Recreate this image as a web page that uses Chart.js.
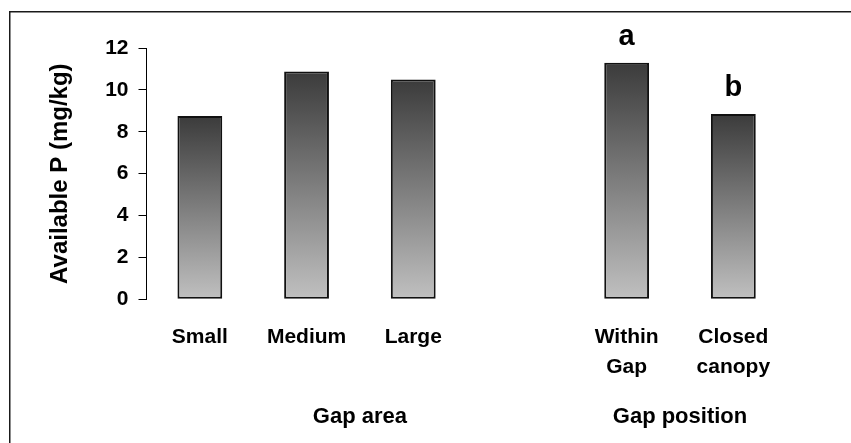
<!DOCTYPE html>
<html>
<head>
<meta charset="utf-8">
<script src="https://cdn.jsdelivr.net/npm/chart.js@4/dist/chart.umd.min.js"></script>
<style>
  html, body { margin: 0; padding: 0; background: #fff; }
  #wrap { width: 851px; height: 443px; }
</style>
</head>
<body>
<div id="wrap"><canvas id="c" width="851" height="443"></canvas></div>
<script>
// Available phosphorus by gap area and by position relative to the gap
const categories = [['Small'], ['Medium'], ['Large'], [''], ['Within', 'Gap'], ['Closed', 'canopy']];
const availableP = [8.75, 10.88, 10.5, null, 11.3, 8.85];
const significance = ['', '', '', '', 'a', 'b'];
const groups = [
  { label: 'Gap area', from: 0, to: 3 },
  { label: 'Gap position', from: 4, to: 5 }
];
const yTicks = [0, 2, 4, 6, 8, 10, 12];

const FONT = "'Liberation Sans', Arial, Helvetica, sans-serif";

// vertical dark-to-light fill for each bar, spanning the bar's own height
function barGradient(ctx) {
  const chart = ctx.chart;
  if (!chart.chartArea || ctx.raw == null) return '#888';
  const y = chart.scales.y;
  const top = y.getPixelForValue(ctx.raw);
  const bottom = y.getPixelForValue(0);
  const g = chart.ctx.createLinearGradient(0, top, 0, bottom);
  g.addColorStop(0, '#3b3b3b');
  g.addColorStop(1, '#c0c0c0');
  return g;
}

const decorations = {
  id: 'decorations',
  beforeDraw(chart) {
    const c = chart.ctx;
    c.save();
    c.fillStyle = '#fff';
    c.fillRect(0, 0, chart.width, chart.height);
    c.strokeStyle = '#1a1a1a';
    c.lineWidth = 1.5;
    c.strokeRect(9.75, 11.75, 900, 500);
    c.restore();
  },
  afterDatasetsDraw(chart) {
    const c = chart.ctx;
    const meta = chart.getDatasetMeta(0);
    const x = chart.scales.x;
    c.save();
    c.fillStyle = '#000';
    c.textAlign = 'center';
    c.textBaseline = 'alphabetic';
    // significance letters above the bars
    c.font = 'bold 29px ' + FONT;
    significance.forEach((s, i) => {
      if (!s) return;
      const bar = meta.data[i];
      c.fillText(s, bar.x, bar.y - 18);
    });
    // group captions under the category labels
    c.font = 'bold 22px ' + FONT;
    groups.forEach(g => {
      const cx = (x.getPixelForValue(g.from) + x.getPixelForValue(g.to)) / 2;
      c.fillText(g.label, cx, 423);
    });
    c.restore();
  }
};

new Chart(document.getElementById('c'), {
  type: 'bar',
  data: {
    labels: categories,
    datasets: [{
      data: availableP,
      backgroundColor: barGradient,
      borderColor: '#111',
      borderWidth: 2,
      borderSkipped: false,
      barPercentage: 0.42,
      categoryPercentage: 1.0
    }]
  },
  options: {
    responsive: false,
    animation: false,
    devicePixelRatio: 1,
    layout: { padding: { left: 0, top: 48, right: 64.3, bottom: 0 } },
    plugins: {
      legend: { display: false },
      tooltip: { enabled: false }
    },
    scales: {
      x: {
        grid: { display: false },
        border: { display: false },
        ticks: {
          color: '#000',
          font: { family: FONT, size: 21, weight: 'bold', lineHeight: 1.43 },
          padding: 15,
          maxRotation: 0,
          autoSkip: false
        },
        afterFit(scale) { scale.height = 143.7; }
      },
      y: {
        min: 0,
        max: 12,
        afterBuildTicks(scale) { scale.ticks = yTicks.map(v => ({ value: v })); },
        grid: {
          drawOnChartArea: false,
          drawTicks: true,
          tickLength: 8,
          color: '#000',
          lineWidth: 1
        },
        border: { display: true, color: '#000', width: 1 },
        ticks: {
          color: '#000',
          font: { family: FONT, size: 21, weight: 'bold' },
          padding: 10
        },
        title: {
          display: true,
          text: 'Available P (mg/kg)',
          color: '#000',
          font: { family: FONT, size: 24, weight: 'bold', lineHeight: 1.2 },
          padding: { top: 46, bottom: 0 }
        },
        afterFit(scale) { scale.width = 146.5; }
      }
    }
  },
  plugins: [decorations]
});
</script>
</body>
</html>
